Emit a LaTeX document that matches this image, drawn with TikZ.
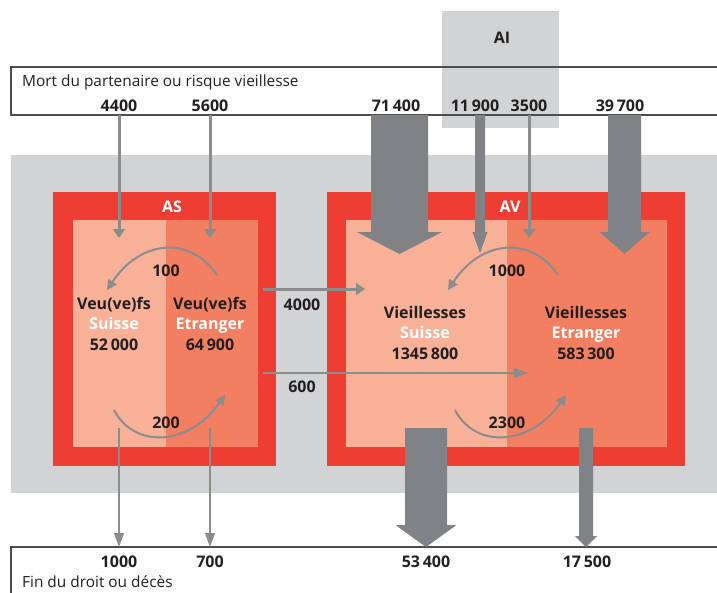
\documentclass[tikz,border=0pt]{standalone}
\usepackage{fontspec}
\setmainfont{Open Sans}
\usetikzlibrary{arrows.meta}
\definecolor{flowRed}{RGB}{238,61,51}
\definecolor{flowCH}{RGB}{248,176,151}
\definecolor{flowEtr}{RGB}{243,127,98}
\definecolor{flowBg}{RGB}{209,211,212}
\definecolor{flowArrow}{RGB}{128,130,133}
\definecolor{flowThin}{RGB}{138,140,142}
\definecolor{flowText}{RGB}{35,31,32}
\definecolor{flowLine}{RGB}{77,77,79}
\tikzset{
    num/.style={font=\bfseries\fontsize{16}{18}\selectfont, text=flowText, anchor=base, inner sep=0pt},
    hdr/.style={font=\bfseries\fontsize{16}{18}\selectfont, text=white, anchor=base, inner sep=0pt},
    plain/.style={font=\fontsize{15.4}{18}\selectfont, text=flowText, anchor=base west, inner sep=0pt},
    frameline/.style={draw=flowLine, line width=1.3pt},
    % thin and medium flows
    flowline/.style={draw=flowThin, line width=3pt, -{Triangle[length=9pt,width=12pt]}},
    flowhair/.style={draw=flowThin, line width=1.5pt, -{Triangle[length=14pt,width=10pt]}},
    swap/.style={draw=flowThin, line width=2pt, -{Triangle[length=10pt,width=10pt]}},
}
% block arrow: x, y start, y tip, shaft half width, head half width, head length
\newcommand{\bigflow}[6]{%
    \fill[flowArrow] ({#1-#4},#2) -- ({#1+#4},#2) -- ({#1+#4},{#3-#6}) -- ({#1+#5},{#3-#6})
        -- (#1,#3) -- ({#1-#5},{#3-#6}) -- ({#1-#4},{#3-#6}) -- cycle;}

\begin{document}
\begin{tikzpicture}[x=1pt, y=-1pt]
\useasboundingbox (0,0) rectangle (717,592);

% --- AI box and background ---
\fill[flowBg] (442,11) rectangle (559,128);
\node[num] (ai) at (502,43) {AI};
\fill[flowBg] (11,155) rectangle (717,493);

% --- AS ---
\fill[flowRed] (53,192) rectangle (276,466);
\fill[flowCH] (73,220) rectangle (166,447);
\fill[flowEtr] (166,220) rectangle (258,447);
\node[hdr] (as) at (172,212) {AS};

% --- AV ---
\fill[flowRed] (327,192) rectangle (685,466);
\fill[flowCH] (346,220) rectangle (507,447);
\fill[flowEtr] (507,220) rectangle (667,447);
\node[hdr] (av) at (510,212) {AV};

% --- entry and exit frames ---
\draw[frameline] (717,67) -- (11,67) -- (11,115) -- (717,115);
\draw[frameline] (717,547) -- (11,547) -- (11,593);
\node[plain] (entry) at (22,86) {Mort du partenaire ou risque vieillesse};
\node[plain] (exit) at (22,587) {Fin du droit ou décès};

% --- inflows ---
\foreach \nm/\xx in {a/119, b/210, c/529}{
    \coordinate (top\nm) at (\xx,115);
    \coordinate (in\nm) at (\xx,238);
    \draw[flowline] (top\nm) -- (in\nm);
}
\bigflow{399.5}{115}{254}{28.5}{42.5}{22}
\bigflow{480}{115}{253}{5}{7.5}{21}
\bigflow{624.5}{115}{254}{16.5}{25}{22}

% --- AS to AV ---
\coordinate (asA) at (263,289);
\coordinate (avA) at (365,289);
\coordinate (asB) at (263,373);
\coordinate (avB) at (528,373);
\draw[flowline] (asA) -- (avA);
\draw[flowhair] (asB) -- (avB);

% --- swaps between Suisse and Etranger ---
\foreach \dx in {0, 341}{
    \draw[swap] (217+\dx,275) .. controls (190+\dx,235) and (140+\dx,240) .. (107+\dx,290);
    \draw[swap] (114+\dx,410) .. controls (135+\dx,450) and (190+\dx,445) .. (225+\dx,395);
}

% --- outflows ---
\foreach \nm/\xx in {a/119, b/210}{
    \coordinate (out\nm) at (\xx,428);
    \coordinate (end\nm) at (\xx,547);
    \draw[flowhair] (out\nm) -- (end\nm);
}
\bigflow{426}{428}{547}{21}{30.5}{22}
\bigflow{586}{428}{547}{7}{11}{11}

% --- numbers ---
\node[num] (n4400) at (119,111) {4400};
\node[num] (n5600) at (210,111) {5600};
\node[num] (n71400) at (396,111) {71\,400};
\node[num] (n11900) at (475,111) {11\,900};
\node[num] (n3500) at (529,111) {3500};
\node[num] (n39700) at (620,111) {39\,700};

\node[num] (n100) at (166,276) {100};
\node[num] (n200) at (166,428) {200};
\node[num] (n1000a) at (507,276) {1000};
\node[num] (n2300) at (507,428) {2300};
\node[num] (n4000) at (302,310) {4000};
\node[num] (n600) at (302,392) {600};

\node[num] (o1000) at (119,567) {1000};
\node[num] (o700) at (210,567) {700};
\node[num] (o53400) at (426,567) {53\,400};
\node[num] (o17500) at (587,567) {17\,500};

% --- stocks ---
\foreach \nm/\xx/\yy/\kind/\orig/\val in {
    veuCH/114/309/Veu(ve)fs/Suisse/52\,000,
    veuEtr/210/309/Veu(ve)fs/Etranger/64\,900,
    vieCH/425/318/Vieillesses/Suisse/1345\,800,
    vieEtr/586/318/Vieillesses/Etranger/583\,300}{
    \node[num] (\nm) at (\xx,\yy) {\kind};
    \node[hdr] (\nm O) at (\xx,\yy+20.5) {\orig};
    \node[num] (\nm V) at (\xx,\yy+41) {\val};
}

\end{tikzpicture}
\end{document}
